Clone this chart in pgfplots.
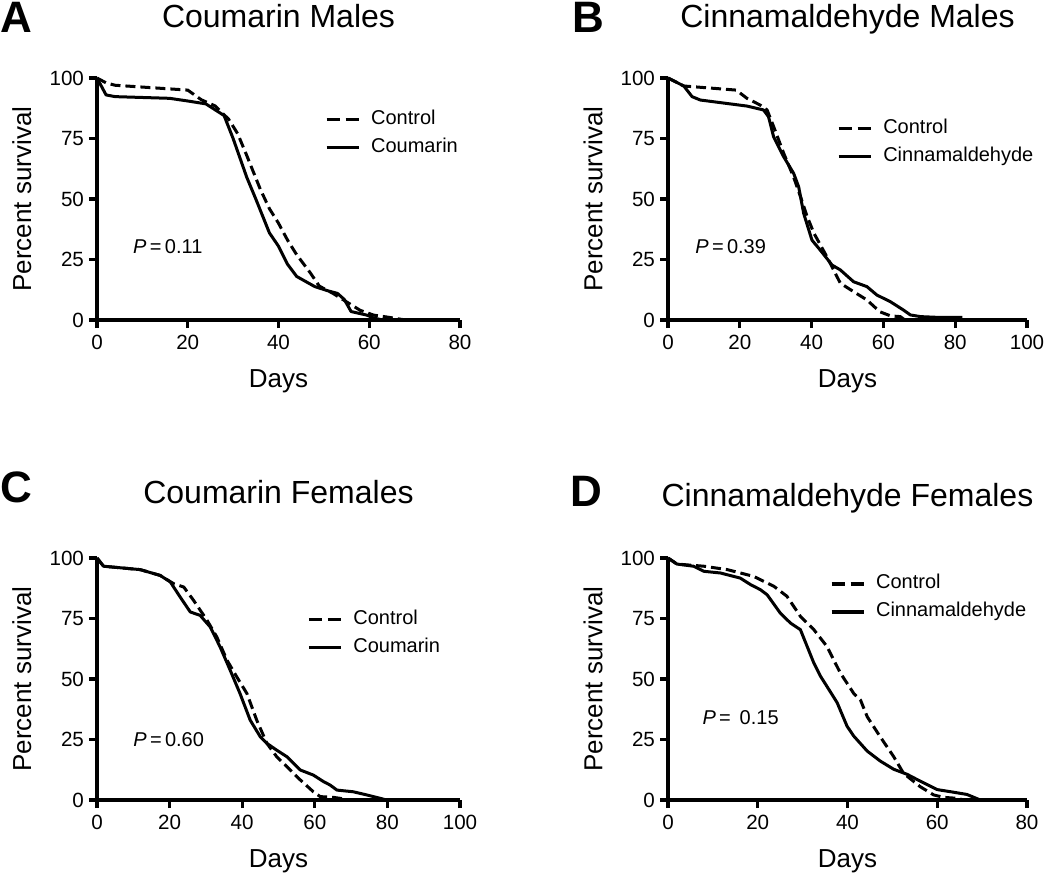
\documentclass[border=0pt]{standalone}
\usepackage{pgfplots}
\pgfplotsset{compat=1.18}
\usepackage{fontspec}
\setmainfont{Liberation Sans}
\pgfplotsset{legend image code/.code={\draw[#1] (0pt,0pt) -- (16pt,0pt);}}
\pgfplotsset{
  myax/.style={
    scale only axis, height=121pt, ymin=0, ymax=100, xmin=0,
    axis x line=bottom, axis y line=left, axis line style={-, line width=1.8pt},
    clip=false,
    ytick={0,25,50,75,100},
    tick style={line width=1.6pt, black}, tick align=outside, major tick length=4pt,
    /pgf/number format/assume math mode=true,
    tick label style={font=\fontsize{10.3}{12}\selectfont},
    yticklabel style={xshift=1pt},
    label style={font=\fontsize{13}{15}\selectfont},
    xlabel={Days}, ylabel={Percent survival},
    xlabel style={at={(axis description cs:0.5,-0.252)}, anchor=center},
    ylabel style={at={(axis description cs:-0.207,0.5)}, anchor=center},
    title style={font=\fontsize{16}{19}\selectfont, anchor=base},
    legend cell align=left,
    legend style={draw=none, fill=none, anchor=west, inner sep=0pt, outer sep=0pt,
      row sep=5pt, column sep=5.5pt, font=\fontsize{10}{12}\selectfont,
      nodes={inner sep=0pt, text height=7pt, text depth=2pt}},
    every axis plot/.append style={line width=1.5pt, black, line join=round},
  },
  ctrl/.style={dash pattern=on 5pt off 2.5pt},
}
\newcommand{\ptext}{\fontsize{10}{12}\selectfont}
\newcommand{\lett}{\fontsize{22}{26}\selectfont\bfseries}
\begin{document}
\begin{tikzpicture}
\useasboundingbox (0,0) rectangle (525pt,437.5pt);
% ---------------- A ----------------
\begin{axis}[myax, at={(48.5pt,277.5pt)}, anchor=south west, width=181.5pt,
  xmax=80, xtick={0,20,40,60,80},
  title={Coumarin Males}, title style={at={(axis description cs:0.5,1.16)}},
  legend style={at={(rel axis cs:0.628,0.770)}}]
\addlegendimage{line width=1.6pt, dash pattern=on 6.5pt off 3pt}
\addlegendentry{Control}
\addlegendimage{line width=1.6pt}
\addlegendentry{Coumarin}
\addplot[ctrl, forget plot] coordinates {(0,100) (2,98) (4,97) (20,95) (23,91) (26,88.5) (29,83) (31,77) (33,68) (36,54) (38,46) (40,40) (42,33) (44,27) (47,19.5) (49,14) (52,11) (55,7.5) (58,4) (61,2) (64,1.2) (68,0)};
\addplot[forget plot] coordinates {(0,100) (2,93) (4,92.3) (16,91.6) (20,90.5) (24,89.3) (28,84.5) (30,75) (33,59) (35,50) (38,36) (40,30.5) (42,23) (44,18) (48,13.8) (51,12) (53,11) (54.5,8.5) (56,3.5) (59.5,2) (61,0.8) (63,0)};
\node[anchor=west, inner sep=0pt, font=\ptext] at (axis cs:7.9,30.2) {\textit{P}\,=\,0.11};
\node[anchor=base west, inner sep=0pt, font=\lett] at (axis description cs:-0.267,1.186) {A};
\end{axis}
% ---------------- B ----------------
\begin{axis}[myax, at={(334pt,277.5pt)}, anchor=south west, width=179.5pt,
  xmax=100, xtick={0,20,40,60,80,100},
  title={Cinnamaldehyde Males}, title style={at={(axis description cs:0.5,1.16)}},
  ylabel style={at={(axis description cs:-0.209,0.5)}},
  legend style={at={(rel axis cs:0.471,0.733)}}]
\addlegendimage{line width=1.6pt, dash pattern=on 6.5pt off 3pt}
\addlegendentry{Control}
\addlegendimage{line width=1.6pt}
\addlegendentry{Cinnamaldehyde}
\addplot[ctrl, forget plot] coordinates {(0,100) (4.4,96.7) (19,95) (22,91.6) (25.7,88.8) (27.6,86.8) (29.4,80) (32.2,69) (35,59) (36.9,51) (38.7,43) (40.6,36) (44.3,26) (48,15.2) (51.7,11.7) (55.4,8.3) (59,3.4) (62,1.7) (64.7,1.4) (66,0)};
\addplot[forget plot] coordinates {(0,100) (4.4,96.7) (6.7,92.3) (9,90.9) (22,88.4) (26.6,86.8) (28,84) (29.4,75.8) (32.2,67.5) (35,60.6) (36.4,55) (37.8,44) (40.1,33) (42.4,28.9) (45.7,22.7) (48,20.7) (51.7,15.8) (55.4,13.8) (58.2,10.3) (61.9,7.6) (65.6,4.1) (67.5,2.1) (70.3,1.4) (75,1.1) (82,1.1)};
\node[anchor=west, inner sep=0pt, font=\ptext] at (axis cs:7.5,30.2) {\textit{P}\,=\,0.39};
\node[anchor=base west, inner sep=0pt, font=\lett] at (axis description cs:-0.267,1.186) {B};
\end{axis}
% ---------------- C ----------------
\begin{axis}[myax, at={(48.5pt,37.5pt)}, anchor=south west, width=181.5pt,
  xmax=100, xtick={0,20,40,60,80,100},
  title={Coumarin Females}, title style={at={(axis description cs:0.5,1.174)}},
  legend style={at={(rel axis cs:0.579,0.688)}}]
\addlegendimage{line width=1.6pt, dash pattern=on 6.5pt off 3pt}
\addlegendentry{Control}
\addlegendimage{line width=1.6pt}
\addlegendentry{Coumarin}
\addplot[ctrl, forget plot] coordinates {(0,100) (1.8,96.6) (11.9,95.2) (17.4,92.8) (21.1,89.4) (23.9,88) (26.6,82.5) (30.3,74.3) (33,67.4) (35.8,57.8) (38.5,50.9) (41.3,44) (44,33) (46.8,23.4) (49.5,17.9) (52.3,13.8) (56,8.3) (59.6,3.4) (61.5,1.4) (65.1,1.1) (68.8,0.3) (69,0)};
\addplot[forget plot] coordinates {(0,100) (1.8,96.6) (11.9,95.2) (17.4,92.8) (20.2,90.1) (22.9,83.9) (25.7,77.7) (28.4,76.3) (31.2,71.5) (33.9,63.3) (36.7,53.6) (39.4,44) (42.2,33) (45,26.1) (46.8,23.4) (49.5,20.6) (52.3,17.9) (56,12.4) (59.6,10.3) (62.4,7.6) (64.2,6.2) (66.1,4.1) (70.6,3.4) (74.3,2.1) (78,0.7) (79.8,0)};
\node[anchor=west, inner sep=0pt, font=\ptext] at (axis cs:9.9,24.8) {\textit{P}\,=\,0.60};
\node[anchor=base west, inner sep=0pt, font=\lett] at (axis description cs:-0.267,1.231) {C};
\end{axis}
% ---------------- D ----------------
\begin{axis}[myax, at={(334pt,37.5pt)}, anchor=south west, width=179.5pt,
  xmax=80, xtick={0,20,40,60,80},
  title={Cinnamaldehyde Females}, title style={at={(axis description cs:0.5,1.165)}},
  ylabel style={at={(axis description cs:-0.209,0.5)}},
  legend style={at={(rel axis cs:0.451,0.835)}}]
\addlegendimage{line width=1.6pt, dash pattern=on 6.5pt off 3pt}
\addlegendentry{Control}
\addlegendimage{line width=1.6pt}
\addlegendentry{Cinnamaldehyde}
\addplot[ctrl, forget plot] coordinates {(0,100) (2,97.5) (8,96.6) (13.2,95.2) (19.1,92.4) (23.6,88.3) (26.5,84.2) (29.5,75.9) (32.5,70.4) (35.4,63.5) (38.4,52.5) (41.4,44) (42.9,41.3) (44.4,34.4) (47.3,26.1) (50.3,17.9) (52.5,11) (56.2,5.5) (59.2,2.1) (61.4,1.1) (64.4,0.7) (66,0)};
\addplot[forget plot] coordinates {(0,100) (2,97.5) (5.7,96.6) (8,94.5) (11.7,93.8) (16.1,91.7) (18.4,89) (20.6,86.9) (22.1,84.8) (25,77.3) (27.3,73.1) (29.5,70.4) (31,63.5) (32.5,56.6) (34,51.1) (35.4,47) (37.7,40.2) (39.9,30.5) (41.4,26.4) (44.4,20.2) (47.3,16.1) (50.3,12.7) (53.3,10.6) (56.2,7.8) (60,4.3) (63.7,3.2) (66.6,2.3) (69.6,0)};
\node[anchor=west, inner sep=0pt, font=\ptext] at (axis cs:7.6,33.9) {\textit{P}\,=~\,0.15};
\node[anchor=base west, inner sep=0pt, font=\lett] at (axis description cs:-0.273,1.211) {D};
\end{axis}
\end{tikzpicture}
\end{document}
